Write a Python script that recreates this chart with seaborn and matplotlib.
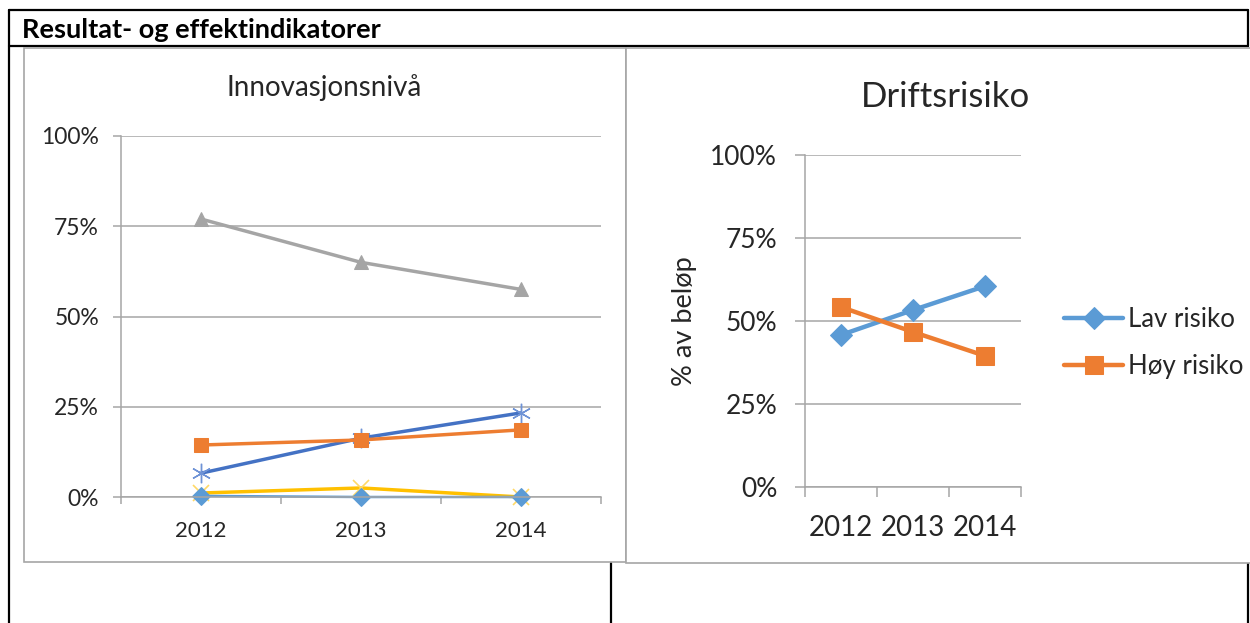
import matplotlib
matplotlib.use('Agg')
import matplotlib.pyplot as plt
import seaborn as sns
import pandas as pd
from matplotlib.ticker import PercentFormatter
from matplotlib.patches import Rectangle
from matplotlib.lines import Line2D

sns.set_theme(style="white")
plt.rcParams['font.family'] = ['Lato', 'DejaVu Sans']

# data
years = [2012, 2013, 2014]
innov_grey = [0.77, 0.65, 0.575]
innov_blue = [0.066, 0.163, 0.233]
innov_orange = [0.144, 0.158, 0.186]
innov_yellow = [0.011, 0.025, 0.0]
innov_lightblue = [0.003, 0.0, 0.0]
drift_lav = [0.458, 0.533, 0.605]
drift_hoy = [0.542, 0.467, 0.395]
drift_labels = ['Lav risiko', 'Høy risiko']
pct_ticks = [0, 0.25, 0.5, 0.75, 1.0]

W, H = 1250, 623
fig = plt.figure(figsize=(12.5, 6.23), dpi=100)
grid_c = '#a6a6a6'
text_c = '#262626'


def fline(x0, y0, x1, y1, color='black', lw=1.6):
    fig.add_artist(Line2D([x0 / W, x1 / W], [1 - y0 / H, 1 - y1 / H],
                          transform=fig.transFigure, color=color, lw=lw, zorder=-2))


# table frame
fline(9, 10, 1248, 10)
fline(9, 46, 1248, 46)
fline(9, 10, 9, 623)
fline(1248, 10, 1248, 46)
fline(1248, 563, 1248, 623)
fline(611, 563, 611, 623)
fig.text(22 / W, 1 - 30 / H, 'Resultat- og effektindikatorer', fontsize=19.5,
         fontweight='bold', color='black', va='center', ha='left')

# chart boxes
for (x0, y0, x1, y1) in [(24, 48, 626, 562), (626, 48, 1256, 563)]:
    fig.add_artist(Rectangle((x0 / W, 1 - y1 / H), (x1 - x0) / W, (y1 - y0) / H,
                             transform=fig.transFigure, facecolor='white',
                             edgecolor=grid_c, lw=1.2, zorder=-1))

ax1 = fig.add_axes([121 / W, 1 - 497 / H, 480 / W, 361 / H])
ax2 = fig.add_axes([805 / W, 1 - 487 / H, 216 / W, 332 / H])

# Innovasjonsnivå
sns.lineplot(x=years, y=innov_yellow, ax=ax1, color='#FFC000', lw=2.5, clip_on=False,
             marker='x', markersize=12, markeredgecolor='#FFD966', markeredgewidth=1.2)
sns.lineplot(x=years, y=innov_blue, ax=ax1, color='#4472C4', lw=2.5, clip_on=False,
             marker=(6, 2, 0), markersize=14, markeredgecolor='#6f93d6', markeredgewidth=1.0)
sns.lineplot(x=years, y=innov_grey, ax=ax1, color='#A5A5A5', lw=2.5, clip_on=False,
             marker='^', markersize=10, markeredgecolor='#A5A5A5')
sns.lineplot(x=years, y=innov_orange, ax=ax1, color='#ED7D31', lw=2.5, clip_on=False,
             marker='s', markersize=9.5, markeredgecolor='#ED7D31')
sns.lineplot(x=years, y=innov_lightblue, ax=ax1, color='#5B9BD5', lw=1.8, clip_on=False,
             marker='D', markersize=9, markeredgecolor='#5B9BD5')

# Driftsrisiko
sns.lineplot(x=years, y=drift_lav, ax=ax2, color='#5B9BD5', lw=3.2,
             marker='D', markersize=11, markeredgecolor='#5B9BD5', label=drift_labels[0])
sns.lineplot(x=years, y=drift_hoy, ax=ax2, color='#ED7D31', lw=3.2,
             marker='s', markersize=13, markeredgecolor='#ED7D31', label=drift_labels[1])
handles, labels = ax2.get_legend_handles_labels()
ax2.get_legend().remove()

for ax, xfs, yfs, ylen, xlen, ypad, xpad in [(ax1, 16, 16.5, 5.8, 5, 10, 17),
                                              (ax2, 20, 19, 7, 7, 13, 20)]:
    ax.set_xlim(2011.5, 2014.5)
    ax.set_ylim(0, 1)
    ax.set_xticks(years)
    ax.set_xticklabels([str(y) for y in years])
    ax.set_xticks([2011.5, 2012.5, 2013.5, 2014.5], minor=True)
    ax.set_yticks(pct_ticks)
    ax.yaxis.set_major_formatter(PercentFormatter(1.0, decimals=0))
    ax.grid(axis='y', color=grid_c, lw=1.1)
    ax.set_axisbelow(True)
    ax.patch.set_alpha(0)
    for s in ['top', 'right']:
        ax.spines[s].set_visible(False)
    for s in ['left', 'bottom']:
        ax.spines[s].set_color(grid_c)
        ax.spines[s].set_linewidth(1.1)
    ax.tick_params(axis='x', which='major', bottom=True, length=0, pad=xpad,
                   labelsize=xfs, labelcolor=text_c)
    ax.tick_params(axis='x', which='minor', bottom=True, length=xlen, width=1.1,
                   color=grid_c, direction='out')
    ax.tick_params(axis='y', which='major', left=True, length=ylen, width=1.1,
                   color=grid_c, direction='out', pad=ypad, labelsize=yfs, labelcolor=text_c)
    ax.set_xlabel('')

ax2.set_ylabel('% av beløp', fontsize=19.5, color=text_c)
ax2.yaxis.set_label_coords((697 - 805) / 216, 0.5)

fig.text(324 / W, 1 - 88 / H, 'Innovasjonsnivå', fontsize=20, color=text_c,
         ha='center', va='center')
fig.text(945 / W, 1 - 97 / H, 'Driftsrisiko', fontsize=25, color=text_c,
         ha='center', va='center')

fig.legend(handles, labels, loc='center left', bbox_to_anchor=(1064 / W, 1 - 343 / H),
           frameon=False, handlelength=2.3, handletextpad=0.2, labelspacing=0.85,
           borderpad=0, borderaxespad=0, fontsize=18.5, labelcolor=text_c)

fig.savefig('out.png', dpi=100)
